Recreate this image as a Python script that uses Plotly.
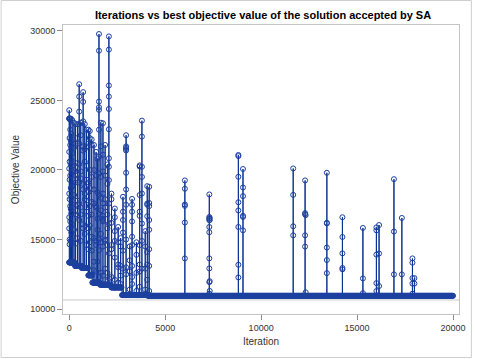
import plotly.graph_objects as go

# ---------------- data ----------------
title_text = "Iterations vs best objective value of the solution accepted by SA"
x_title = "Iteration"
y_title = "Objective Value"
x_ticks = [0, 5000, 10000, 15000, 20000]
y_ticks = [10000, 15000, 20000, 25000, 30000]

n_iter = 20000
iter_step = 25

# best-solution baseline: (start iteration, level)
base_starts = [0, 300, 650, 1000, 1200, 1600, 2200, 2750, 4100]
base_levels = [13350, 13100, 12950, 12420, 11900, 11750, 11550, 11000, 10950]

ref_value = 10650

spike_iters = [
    0, 20, 50, 80, 110, 150, 180, 250, 330, 430, 518, 600, 724, 810, 900, 1000, 1070, 1170, 1290,
    1400, 1470, 1550, 1650, 1757, 1870, 1990, 2067, 2200, 2377, 2550, 2680, 2800, 2962, 3150, 3274,
    3500, 3670, 3788, 3960, 4063, 4166,
    6025, 7299, 7320, 8813, 9054, 11670, 12290, 12320, 13425, 14235, 15303, 16006, 16145, 16920,
    17333, 17884, 17987,
]
spike_values = [
    [15800, 18300, 21300, 23700, 24300, 23700, 20100, 16600],
    [14650, 17900, 20600, 22300, 23700, 23650, 19300, 15000],
    [16300, 19600, 21800, 23700, 22900, 17400],
    [14900, 17200, 20400, 22100, 23700, 18700],
    [15500, 18000, 20700, 22600, 21600, 16900],
    [16100, 18800, 21200, 23600, 19900, 15200],
    [14800, 17500, 20300, 22200, 18900],
    [15700, 18200, 21600, 23400, 20000, 17300],
    [16800, 19100, 21900, 23300, 19600, 14700],
    [15100, 17800, 20500, 22300, 23300, 19700, 16700],
    [16400, 19100, 21900, 24200, 25280, 26170, 23300, 20400, 17600],
    [14900, 17300, 19900, 22500, 23400, 19400, 16800],
    [15800, 18600, 21400, 23500, 24900, 25600, 21700, 19000, 16100],
    [15400, 17900, 20600, 23300, 21500, 18300],
    [14600, 17000, 19300, 21700, 22900, 20300, 17800],
    [14300, 16700, 19100, 21900, 22900, 18400, 15800],
    [14800, 17400, 20000, 22300, 22800, 18700, 16000],
    [14200, 16800, 19500, 21800, 22200, 17700, 15200],
    [12800, 15100, 17600, 20000, 21800, 18600, 13400],
    [12700, 14900, 17300, 19600, 21300, 17400, 14600],
    [13400, 15700, 18400, 20800, 16500],
    [12300, 14220, 16870, 18190, 19750, 20950, 24320, 24515, 24920, 28580, 29780, 22900, 15000],
    [12600, 14800, 17100, 19500, 21700, 23400, 18000, 15400],
    [12400, 14500, 16300, 16400, 16500, 16700, 18300, 19900, 21100, 23360, 17600],
    [12900, 15000, 17300, 19600, 21800, 17900, 14900],
    [12600, 14600, 16800, 19000, 20400, 15800],
    [16150, 17590, 19270, 20230, 20840, 22930, 24390, 25280, 26080, 28660, 29610, 14000, 12200],
    [12300, 14300, 16200, 17900, 18300, 14600],
    [12100, 13700, 15600, 16600, 17230, 14900],
    [11900, 13200, 14800, 15900, 13000],
    [11800, 13100, 14500, 15100, 12400],
    [12900, 15500, 16400, 17000, 18070, 14200],
    [12500, 15000, 17500, 19800, 21600, 21500, 21700, 22500, 21400, 18600, 13000],
    [11400, 12700, 14500, 13500],
    [11800, 12300, 14600, 16300, 17000, 17500, 17920, 15200, 13100],
    [11300, 12600, 13900, 14800],
    [11600, 13200, 14600, 16700, 18200, 20330, 20250, 17000, 12700],
    [12900, 16150, 18310, 20230, 22400, 23550, 19500, 14900],
    [11400, 12900, 14500, 15600],
    [12100, 14100, 16670, 17500, 17590, 18840, 13200],
    [11300, 13100, 15700, 16400, 17400, 17630, 18790, 14300],
    [13640, 16220, 17420, 17520, 18650, 19250],
    [11100, 11930, 12920, 13640, 15520, 15900, 16390, 16500, 16620, 18240],
    [11300, 12000, 16400, 16550],
    [12270, 13180, 15900, 17090, 17680, 19510, 21000, 21080],
    [15660, 16620, 16700, 18120, 18740, 20070],
    [15300, 15950, 18210, 20110],
    [14490, 15300, 16820, 16900, 19250],
    [11200, 16750],
    [12580, 13520, 14420, 16160, 16200, 19800],
    [12850, 12950, 14000, 15180, 16600],
    [11140, 12200, 15830],
    [11290, 11860, 13910, 15660, 15870],
    [11650, 13990, 16040],
    [12490, 15570, 19340],
    [12490, 16550],
    [11100, 11830, 13330, 13640, 12220],
    [11830, 12220],
]


def base_at(it):
    lvl = base_levels[0]
    for s, v in zip(base_starts, base_levels):
        if it >= s:
            lvl = v
    return lvl


# build the trajectory: baseline samples with the accepted excursions inserted
spikes = dict(zip(spike_iters, spike_values))
events = sorted(set(list(range(0, n_iter + 1, iter_step)) + spike_iters))
xs, ys = [], []
for it in events:
    b = base_at(it)
    xs.append(it)
    ys.append(b)
    if it in spikes:
        for v in spikes[it]:
            xs.append(it)
            ys.append(v)
        xs.append(it)
        ys.append(b)

line_col = "#0A3192"
mark_col = "#1C40A0"
fig = go.Figure()
fig.add_trace(go.Scatter(
    x=xs, y=ys, mode="lines+markers",
    line=dict(color=line_col, width=1),
    marker=dict(symbol="circle-open", size=5, color=mark_col, line=dict(width=1, color=mark_col)),
    showlegend=False, hoverinfo="skip",
))

L, R, T, B = 63, 15, 25, 45
W, H = 478, 359
pw, ph = W - L - R, H - T - B

fig.add_shape(type="line", xref="paper", yref="y", x0=0, x1=1, y0=ref_value, y1=ref_value,
              line=dict(color="#C8C8C8", width=1))
fig.add_shape(type="rect", xref="paper", yref="paper",
              x0=(0.5 - L) / pw, x1=(475.5 - L) / pw,
              y0=1 - (357.5 - T) / ph, y1=1 + (T - 0.5) / ph,
              line=dict(color="#CFCFCF", width=1), layer="below")

font_fam = "Liberation Sans, Arial, sans-serif"
fig.update_layout(
    width=W, height=H,
    margin=dict(l=L, r=R, t=T, b=B, pad=0),
    paper_bgcolor="white", plot_bgcolor="white",
    font=dict(family=font_fam, size=9, color="#333333"),
    title=dict(text="<b>" + title_text + "</b>", x=(L + pw / 2) / W, xanchor="center",
               y=1 - 15 / H, yanchor="middle", font=dict(size=11, color="#000000")),
    xaxis=dict(range=[-325, 20310], tickvals=x_ticks, ticktext=[str(v) for v in x_ticks],
               ticks="outside", ticklen=5, tickcolor="#8C8C8C",
               showline=True, mirror=True, linecolor="#C4C4C4", linewidth=1,
               showgrid=False, zeroline=False,
               title=dict(text=x_title, font=dict(size=10, color="#333333"), standoff=6)),
    yaxis=dict(range=[9640, 30430], tickvals=y_ticks, ticktext=[str(v) for v in y_ticks],
               ticks="outside", ticklen=5, tickcolor="#8C8C8C",
               showline=True, mirror=True, linecolor="#C4C4C4", linewidth=1,
               showgrid=False, zeroline=False,
               title=dict(text=y_title, font=dict(size=10, color="#333333"), standoff=8)),
)

fig.write_html("out.html", config={"displayModeBar": False},
               post_script="document.body.style.margin='0';document.body.style.overflow='hidden';")
